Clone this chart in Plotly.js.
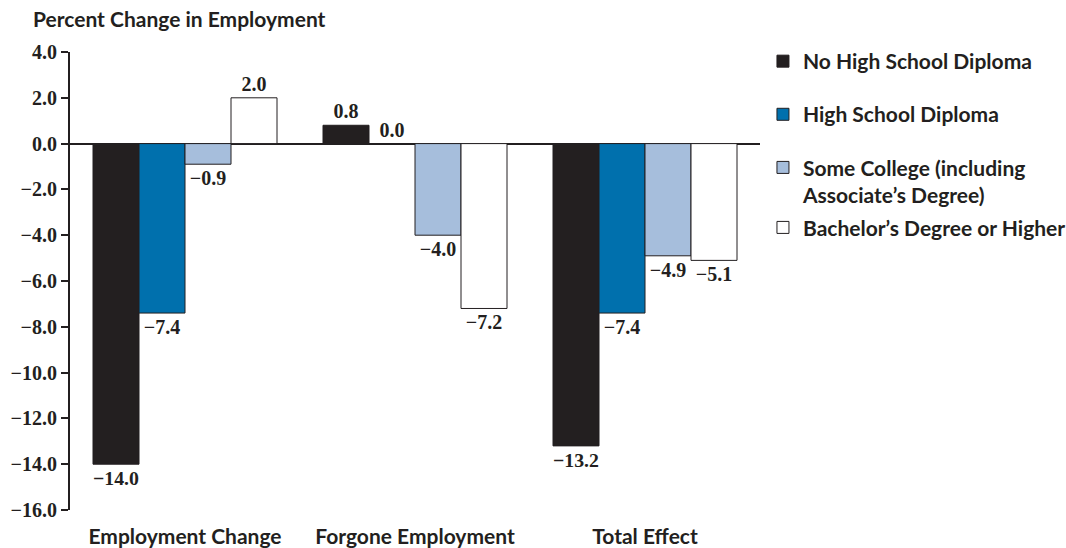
<!DOCTYPE html>
<html>
<head>
<meta charset="utf-8">
<script src="https://cdn.plot.ly/plotly-3.0.1.min.js"></script>
<style>html,body{margin:0;padding:0;background:#fff;}#chart{width:1066px;height:548px;}</style>
</head>
<body>
<div id="chart"></div>
<script>
const categories = ["Employment Change", "Forgone Employment", "Total Effect"];
const seriesNames = ["No High School Diploma", "High School Diploma", "Some College (including<br>Associate’s Degree)", "Bachelor’s Degree or Higher"];
const noHighSchool = [-14.0, 0.8, -13.2];
const highSchool = [-7.4, 0.0, -7.4];
const someCollege = [-0.9, -4.0, -4.9];
const bachelors = [2.0, -7.2, -5.1];
const yTickVals = [4, 2, 0, -2, -4, -6, -8, -10, -12, -14, -16];

const seriesValues = [noHighSchool, highSchool, someCollege, bachelors];
const fills = ["#231f20", "#0070ad", "#a6bedc", "#ffffff"];
const legendIds = ["legend", "legend2", "legend3", "legend4"];
const legendY = [1.024, 0.908, 0.792, 0.661];
const fmt = v => (v < 0 ? "−" : "") + Math.abs(v).toFixed(1);
const xPos = categories.map((c, i) => i);
const sansFont = {family: "Lato", size: 21, color: "#231f20", weight: "bold"};
const serifFont = {family: "Liberation Serif", size: 20, color: "#231f20", weight: "bold"};

const traces = seriesValues.map((vals, k) => ({
  type: "bar",
  name: seriesNames[k],
  x: xPos,
  y: vals,
  marker: {color: fills[k], line: {color: "#231f20", width: 1}},
  text: vals.map(fmt),
  textposition: "outside",
  cliponaxis: false,
  textfont: serifFont,
  legend: legendIds[k],
  hoverinfo: "none"
}));

const layout = {
  width: 1066, height: 548,
  margin: {l: 70, r: 306, t: 52, b: 38, autoexpand: false},
  paper_bgcolor: "#fff", plot_bgcolor: "#fff",
  barmode: "group", bargap: 0.2, bargroupgap: 0,
  showlegend: true,
  title: {
    text: "Percent Change in Employment",
    x: 33 / 1066, xref: "container", xanchor: "left",
    y: 1 - 20 / 548, yref: "container", yanchor: "middle",
    font: {family: "Lato", size: 21, color: "#231f20", weight: "bold"}
  },
  xaxis: {
    range: [-0.5, 2.5],
    tickvals: xPos, ticktext: categories,
    showline: false, showgrid: false, zeroline: false, ticks: "",
    ticklabelstandoff: 12,
    tickfont: sansFont,
    fixedrange: true
  },
  yaxis: {
    range: [-16, 4],
    tickvals: yTickVals,
    ticktext: yTickVals.map(fmt),
    showline: true, linecolor: "#231f20", linewidth: 2,
    ticks: "outside", ticklen: 7, tickwidth: 2, tickcolor: "#231f20",
    showgrid: false,
    zeroline: true, zerolinecolor: "#231f20", zerolinewidth: 2,
    tickfont: serifFont,
    fixedrange: true
  }
};
legendIds.forEach((id, k) => {
  layout[id] = {
    x: 1.0043, xanchor: "left", y: legendY[k], yanchor: "top",
    valign: "top", bgcolor: "rgba(0,0,0,0)",
    font: sansFont
  };
});

Plotly.newPlot("chart", traces, layout, {displayModeBar: false, staticPlot: true});
</script>
</body>
</html>
